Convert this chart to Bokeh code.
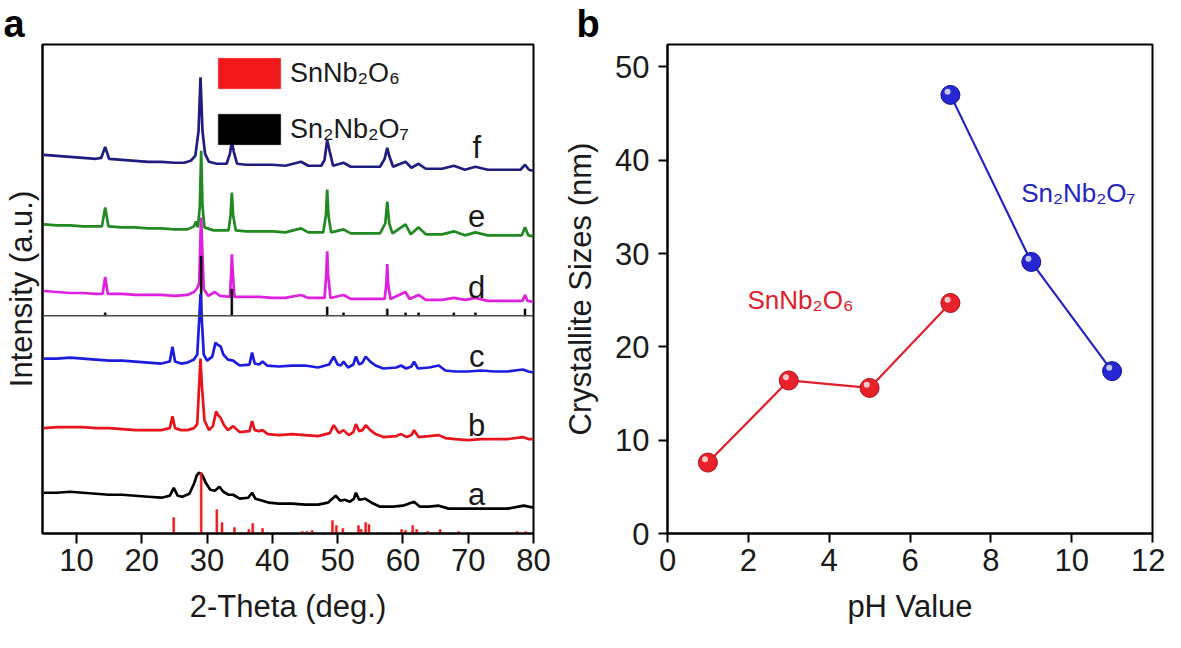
from bokeh.plotting import figure
from bokeh.layouts import row
from bokeh.models import FixedTicker, Span, Label, Legend, LegendItem, ColumnDataSource
from bokeh.embed import file_html
from bokeh.resources import INLINE
from bokeh.core.properties import value

FONT = "Liberation Sans"

# ---------------- Panel a : XRD patterns (2-theta in deg, intensity in a.u.) ----------------
f_theta = [5.0, 7.0, 9.0, 11.0, 13.0, 13.8, 14.4, 15.0, 17.0, 19.0, 21.0, 23.0, 25.0, 26.5, 27.5, 28.2,
           28.7, 29.0, 29.3, 29.7, 30.3, 31.5, 33.0, 33.5, 33.8, 34.1, 34.6, 36.0, 38.0, 40.0, 42.0, 44.4,
           45.5, 47.5, 48.0, 48.4, 48.8, 49.3, 50.9, 52.0, 54.0, 56.5, 57.2, 57.6, 57.9, 58.5, 60.4, 61.3,
           62.4, 63.5, 66.0, 67.8, 69.5, 71.1, 73.0, 76.0, 78.0, 78.7, 79.3, 80.0]
f_int = [381, 380, 379, 378, 377, 378, 389, 377, 376, 375, 374, 374, 373, 373, 375, 380,
         405, 459, 405, 382, 374, 372, 372, 382, 394, 384, 372, 371, 371, 371, 370, 374,
         370, 370, 376, 396, 384, 370, 373, 369, 369, 369, 377, 388, 380, 369, 374, 368,
         372, 367, 367, 370, 366, 369, 366, 366, 366, 371, 366, 365]

e_theta = [5.0, 7.0, 9.0, 11.0, 13.0, 13.9, 14.4, 14.9, 17.0, 19.0, 21.0, 23.0, 25.0, 27.0, 28.0, 28.3,
           28.6, 28.9, 29.1, 29.3, 29.6, 31.0, 33.3, 33.6, 33.8, 34.0, 34.4, 36.0, 38.0, 40.0, 42.0, 44.4,
           45.5, 47.8, 48.2, 48.4, 48.6, 49.0, 50.9, 52.0, 54.0, 56.5, 57.3, 57.6, 57.9, 58.4, 60.4, 61.2,
           62.4, 63.5, 66.0, 67.8, 69.5, 71.1, 73.0, 76.0, 78.2, 78.7, 79.2, 80.0]
e_int = [311, 310, 310, 309, 309, 309, 328, 309, 308, 308, 307, 307, 306, 306, 309, 314,
         308, 330, 385, 330, 308, 305, 305, 320, 343, 320, 305, 304, 304, 304, 303, 307,
         303, 303, 320, 346, 320, 303, 306, 302, 302, 302, 312, 334, 312, 302, 311, 301,
         308, 301, 301, 304, 300, 303, 300, 300, 300, 308, 300, 299]

d_theta = [5.0, 7.0, 9.0, 11.0, 13.0, 14.0, 14.4, 14.8, 17.0, 19.0, 21.0, 23.0, 25.0, 27.0, 28.0, 28.5,
           28.8, 29.0, 29.1, 29.25, 29.5, 30.2, 31.2, 32.0, 33.5, 33.7, 33.8, 33.95, 34.2, 36.0, 38.0, 40.0,
           42.0, 44.4, 45.5, 48.0, 48.25, 48.4, 48.55, 48.9, 50.9, 52.0, 54.0, 57.2, 57.45, 57.6, 57.75, 58.1,
           60.4, 61.0, 62.4, 63.5, 66.0, 67.8, 69.5, 71.1, 73.0, 76.0, 78.3, 78.7, 79.1, 80.0]
d_int = [244, 243, 242, 242, 241, 241, 258, 241, 241, 240, 240, 240, 239, 240, 243, 247,
         252, 300, 318, 290, 246, 239, 243, 239, 238, 262, 281, 262, 238, 238, 238, 237,
         237, 240, 237, 237, 260, 284, 260, 237, 240, 236, 236, 236, 250, 271, 250, 236,
         243, 236, 240, 235, 235, 237, 235, 237, 234, 234, 234, 240, 234, 233]

c_theta = [5.0, 7.0, 9.0, 11.0, 13.0, 15.0, 17.0, 19.0, 21.0, 23.0, 24.3, 24.7, 25.1, 26.0, 27.0, 28.0,
           28.5, 28.8, 29.0, 29.2, 29.5, 30.0, 30.8, 31.3, 31.6, 32.1, 32.5, 33.2, 34.0, 35.0, 36.5, 36.9,
           37.3, 38.0, 38.5, 39.2, 41.0, 43.0, 45.0, 47.0, 48.7, 49.4, 50.0, 50.5, 50.9, 51.6, 52.4, 52.8,
           53.3, 53.8, 54.3, 55.0, 55.8, 57.0, 59.0, 59.7, 60.5, 61.3, 61.7, 62.3, 64.0, 65.5, 66.5, 68.0,
           70.0, 72.0, 74.0, 76.0, 78.4, 79.2, 80.0]
c_int = [176, 176, 177, 176, 175, 174, 174, 173, 172, 171, 173, 188, 173, 171, 172, 175,
         180, 215, 241, 215, 180, 174, 178, 192, 190, 188, 180, 175, 174, 169, 170, 182,
         171, 170, 173, 169, 168, 169, 169, 167, 170, 178, 170, 169, 173, 167, 170, 178,
         170, 172, 178, 173, 169, 166, 167, 169, 166, 168, 173, 166, 167, 169, 164, 163,
         163, 164, 163, 163, 165, 163, 162]

b_theta = [5.0, 7.0, 9.0, 11.0, 13.0, 15.0, 17.0, 19.0, 21.0, 23.0, 24.3, 24.7, 25.1, 26.0, 27.0, 28.0,
           28.5, 28.8, 29.0, 29.2, 29.6, 30.3, 30.9, 31.4, 31.7, 32.1, 32.6, 33.2, 34.0, 35.0, 36.5, 36.9,
           37.3, 38.0, 38.5, 39.3, 41.0, 43.0, 45.0, 47.0, 48.8, 49.4, 50.2, 50.9, 51.7, 52.4, 52.8, 53.3,
           53.8, 54.3, 55.0, 55.8, 57.0, 59.0, 59.7, 60.6, 61.3, 61.7, 62.4, 64.0, 65.5, 66.5, 68.0, 70.0,
           72.0, 74.0, 76.0, 78.4, 79.2, 80.0]
b_int = [106, 107, 107, 107, 106, 106, 105, 104, 104, 104, 106, 118, 106, 104, 104, 106,
         110, 150, 176, 150, 114, 104, 108, 123, 119, 116, 109, 104, 108, 102, 103, 113,
         104, 103, 104, 100, 99, 100, 99, 98, 101, 109, 101, 104, 99, 102, 110, 103,
         104, 109, 104, 100, 97, 98, 100, 97, 99, 104, 97, 98, 99, 96, 95, 94,
         95, 95, 95, 97, 95, 95]

a_theta = [5.0, 7.0, 9.0, 11.0, 13.0, 15.0, 17.0, 19.0, 21.0, 23.0, 24.3, 24.9, 25.5, 26.2, 27.3, 28.0,
           28.4, 28.7, 29.1, 29.4, 29.8, 30.5, 31.2, 31.9, 32.5, 33.3, 34.0, 35.0, 36.3, 36.9, 37.4, 38.5,
           39.5, 41.0, 43.0, 45.0, 47.0, 48.5, 49.7, 50.4, 51.1, 51.9, 52.5, 52.8, 53.3, 54.2, 55.2, 56.5,
           58.5, 60.0, 61.7, 62.6, 64.0, 65.5, 67.0, 70.0, 73.0, 76.0, 78.5, 80.0]
a_int = [41, 41, 42, 41, 40, 39, 39, 38, 37, 36, 38, 46, 38, 37, 40, 50,
         58, 61, 60, 57, 51, 44, 43, 47, 42, 39, 39, 35, 36, 41, 35, 33,
         31, 30, 30, 29, 29, 31, 38, 33, 34, 32, 35, 41, 34, 35, 31, 27,
         27, 28, 32, 27, 27, 28, 25, 25, 25, 25, 28, 26]

# reference patterns (stick positions and heights)
snnb2o6_pos = [24.9, 29.1, 31.5, 32.3, 34.2, 36.4, 37.0, 38.5, 44.6, 45.3, 46.1, 49.2, 49.8, 50.8,
               53.2, 53.6, 54.3, 54.8, 59.8, 60.4, 61.5, 62.1, 63.8, 65.7, 68.5, 77.5, 78.8]
snnb2o6_h = [16, 61, 24, 11, 6, 4, 10, 5, 2, 2, 3, 13, 8, 5,
             8, 4, 11, 9, 4, 3, 8, 4, 2, 4, 2, 2, 2]
sn2nb2o7_pos = [14.4, 29.1, 33.8, 48.4, 50.9, 57.6, 60.4, 62.4, 67.8, 71.1, 78.7]
sn2nb2o7_h = [3, 60, 27, 9, 3, 7, 3, 3, 3, 3, 7]
divider_level = 219

curve_names = ["f", "e", "d", "c", "b", "a"]
x_ticks_a = [10, 20, 30, 40, 50, 60, 70, 80]

# ---------------- Panel b : crystallite sizes ----------------
ph_snnb2o6 = [1, 3, 5, 7]
size_snnb2o6 = [7.6, 16.4, 15.6, 24.7]
ph_sn2nb2o7 = [7, 9, 11]
size_sn2nb2o7 = [47.0, 29.1, 17.4]
x_ticks_b = [0, 2, 4, 6, 8, 10, 12]
y_ticks_b = [0, 10, 20, 30, 40, 50]

TICK_FS = "31px"
LABEL_FS = "31px"


def style_common(p, letter, letter_offset):
    p.grid.visible = False
    p.outline_line_color = "black"
    p.outline_line_width = 2
    p.background_fill_color = "white"
    p.border_fill_color = "white"
    for ax in p.axis:
        ax.axis_line_width = 2
        ax.axis_line_color = "black"
        ax.major_tick_line_width = 2
        ax.major_tick_line_color = "black"
        ax.minor_tick_out = 0
        ax.minor_tick_in = 0
        ax.major_tick_in = 0
        ax.major_label_text_font = FONT
        ax.major_label_text_font_size = TICK_FS
        ax.major_label_text_color = "#1a1a1a"
        ax.axis_label_text_font = FONT
        ax.axis_label_text_font_size = LABEL_FS
        ax.axis_label_text_font_style = "normal"
        ax.axis_label_text_color = "#1a1a1a"
    # panel letter
    p.title.text = letter
    p.title.align = "left"
    p.title.offset = letter_offset
    p.title.standoff = 0
    p.title.text_font = FONT
    p.title.text_font_size = "38px"
    p.title.text_font_style = "bold"
    p.title.text_color = "black"


# ---- figure a
pa = figure(width=560, height=632, x_range=(4.8, 80), y_range=(0, 492),
            output_backend="svg", toolbar_location=None,
            min_border_left=39, min_border_right=27, min_border_top=41, min_border_bottom=99)
style_common(pa, "a", -39)
pa.xaxis.ticker = FixedTicker(ticks=x_ticks_a)
pa.xaxis.major_tick_out = 10
pa.xaxis.major_label_standoff = 5
pa.xaxis.axis_label = "2-Theta (deg.)"
pa.xaxis.axis_label_standoff = 15
pa.yaxis.ticker = FixedTicker(ticks=[])
pa.yaxis.major_tick_out = 0
pa.yaxis.major_label_standoff = 0
pa.yaxis.axis_label = "Intensity (a.u.)"
pa.yaxis.axis_label_standoff = 4

LW = 2.7
pa.line(a_theta, a_int, line_color="black", line_width=LW)
red_sticks = pa.vbar(x=snnb2o6_pos, top=snnb2o6_h, bottom=0, width=0.3,
                     fill_color="#f01818", line_color="#f01818", line_width=0.5)
pa.line(b_theta, b_int, line_color="#e8141c", line_width=LW)
pa.line(d_theta, d_int, line_color="#e020e0", line_width=LW)
pa.add_layout(Span(location=divider_level, dimension="width", line_color="#4a4a4a", line_width=1.5))
black_tops = [divider_level + h for h in sn2nb2o7_h]
black_sticks = pa.vbar(x=sn2nb2o7_pos, top=black_tops, bottom=divider_level, width=0.3,
                       fill_color="black", line_color="black", line_width=0.5)
pa.line(c_theta, c_int, line_color="#1c1ce0", line_width=LW)
pa.line(e_theta, e_int, line_color="#208a20", line_width=LW)
pa.line(f_theta, f_int, line_color="#1e1e80", line_width=LW)

lab_src = ColumnDataSource(dict(x=[71.3] * 6, y=[388, 319, 248, 178, 109, 39], t=curve_names))
pa.text(x="x", y="y", text="t", source=lab_src, text_align="center", text_baseline="alphabetic",
        text_font=value(FONT), text_font_size="31px", text_color="#1a1a1a")

legend = Legend(items=[LegendItem(label="SnNb₂O₆", renderers=[red_sticks]),
                       LegendItem(label="Sn₂Nb₂O₇", renderers=[black_sticks])],
                location=(168, 385), glyph_width=78, glyph_height=38, label_height=38,
                spacing=18, padding=0, margin=0, label_standoff=2,
                border_line_alpha=0, background_fill_alpha=0,
                label_text_font=FONT, label_text_font_size="27px", label_text_color="#1a1a1a")
pa.add_layout(legend)

# ---- figure b
pb = figure(width=605, height=632, x_range=(0, 12), y_range=(0, 52.4),
            output_backend="svg", toolbar_location=None,
            min_border_left=101, min_border_right=13, min_border_top=43, min_border_bottom=99)
style_common(pb, "b", -91)
pb.xaxis.ticker = FixedTicker(ticks=x_ticks_b)
pb.yaxis.ticker = FixedTicker(ticks=y_ticks_b)
pb.xaxis.major_tick_out = 9
pb.yaxis.major_tick_out = 9
pb.xaxis.major_label_standoff = 6
pb.yaxis.major_label_standoff = 9
pb.xaxis.axis_label = "pH Value"
pb.xaxis.axis_label_standoff = 15
pb.yaxis.axis_label = "Crystallite Sizes (nm)"
pb.yaxis.axis_label_standoff = 14

RED_B = "#e0202c"
BLUE_B = "#2424c4"
pb.line(ph_snnb2o6, size_snnb2o6, line_color=RED_B, line_width=2.2)
pb.line(ph_sn2nb2o7, size_sn2nb2o7, line_color=BLUE_B, line_width=2.2)
pb.scatter(ph_snnb2o6, size_snnb2o6, marker="circle", size=19,
           fill_color="#e8222a", line_color="#b0101a", line_width=1)
pb.scatter(ph_sn2nb2o7, size_sn2nb2o7, marker="circle", size=19,
           fill_color="#2626d4", line_color="#12128e", line_width=1)
# specular highlights of the spheres (shifted a few pixels up-left of each point)
pb.scatter([x - 0.07 for x in ph_snnb2o6], [y + 0.35 for y in size_snnb2o6], marker="circle", size=6,
           fill_color="#f8c8c8", line_alpha=0)
pb.scatter([x - 0.07 for x in ph_sn2nb2o7], [y + 0.35 for y in size_sn2nb2o7], marker="circle", size=6,
           fill_color="#c8c8f8", line_alpha=0)

pb.add_layout(Label(x=1.98, y=25.0, text="SnNb₂O₆", text_font=FONT, text_font_size="26px",
                    text_color=RED_B, text_baseline="alphabetic"))
pb.add_layout(Label(x=8.75, y=36.5, text="Sn₂Nb₂O₇", text_font=FONT, text_font_size="26px",
                    text_color=BLUE_B, text_baseline="alphabetic"))

layout = row(pa, pb)
open("out.html", "w").write(file_html(layout, INLINE))
